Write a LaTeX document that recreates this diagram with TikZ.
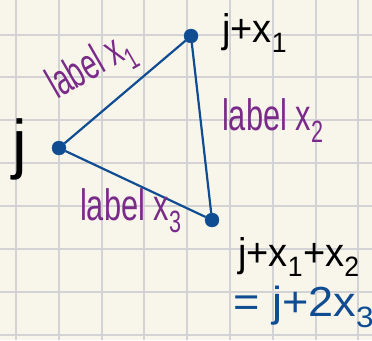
\documentclass[tikz,border=0pt]{standalone}
\usepackage{fontspec}
\setmainfont{Liberation Sans}
\usetikzlibrary{positioning}
\definecolor{paper}{HTML}{F8F6EA}
\definecolor{gridc}{HTML}{D3D3D6}
\definecolor{inkblue}{HTML}{0F4C92}
\definecolor{inkpurple}{HTML}{7A2A88}
\tikzset{
  vtx/.style={circle,fill=inkblue,draw=inkblue,inner sep=0pt,minimum size=14pt},
  edg/.style={draw=inkblue,line width=2.2pt},
  gridln/.style={draw=gridc,line width=2pt},
  elbl/.style={text=inkpurple,font=\fontsize{44}{48}\selectfont,xscale=.7,inner sep=0pt,anchor=base west},
  vlbl/.style={text=black,font=\fontsize{40}{44}\selectfont,xscale=.95,inner sep=0pt,anchor=base west}
}

\begin{document}
\begin{tikzpicture}[x=1pt,y=-1pt]
  \fill[paper] (0,0) rectangle (372,340);
  \useasboundingbox (0,0) rectangle (372,340);
  % grid paper
  \foreach \i in {0,...,8} \draw[gridln] ({16+42.8*\i},0) -- ({16+42.8*\i},340);
  \foreach \i in {0,...,7} \draw[gridln] (0,{34.5+42.9*\i}) -- (372,{34.5+42.9*\i});

  \node[vtx] (j) at (59,148) {};
  \node[vtx] (jx) at (191,36) {};
  \node[vtx] (jxx) at (212,220) {};

  \draw[edg] (j) -- (jx);
  \draw[edg] (jx) -- (jxx);
  \draw[edg] (jxx) -- (j);

  \node[vlbl,xscale=1.05,font=\fontsize{66}{70}\selectfont] (jl) at (12,166) {j};
  \node[vlbl] (jxl) at (222,42) {j+x\textsubscript{1}};
  \node[vlbl] (jxxl) at (238,266) {j+x\textsubscript{1}+x\textsubscript{2}};
  \node[vlbl,text=inkblue,font=\fontsize{42}{46}\selectfont,xscale=1.13] (eq) at (233,316) {= j+2x\textsubscript{3}};

  \node[rotate=30,elbl,xscale=.9] (l1) at (57,100) {label x\textsubscript{1}};
  \node[elbl] (l2) at (222,130) {label x\textsubscript{2}};
  \node[elbl] (l3) at (80,220) {label x\textsubscript{3}};
\end{tikzpicture}
\end{document}
